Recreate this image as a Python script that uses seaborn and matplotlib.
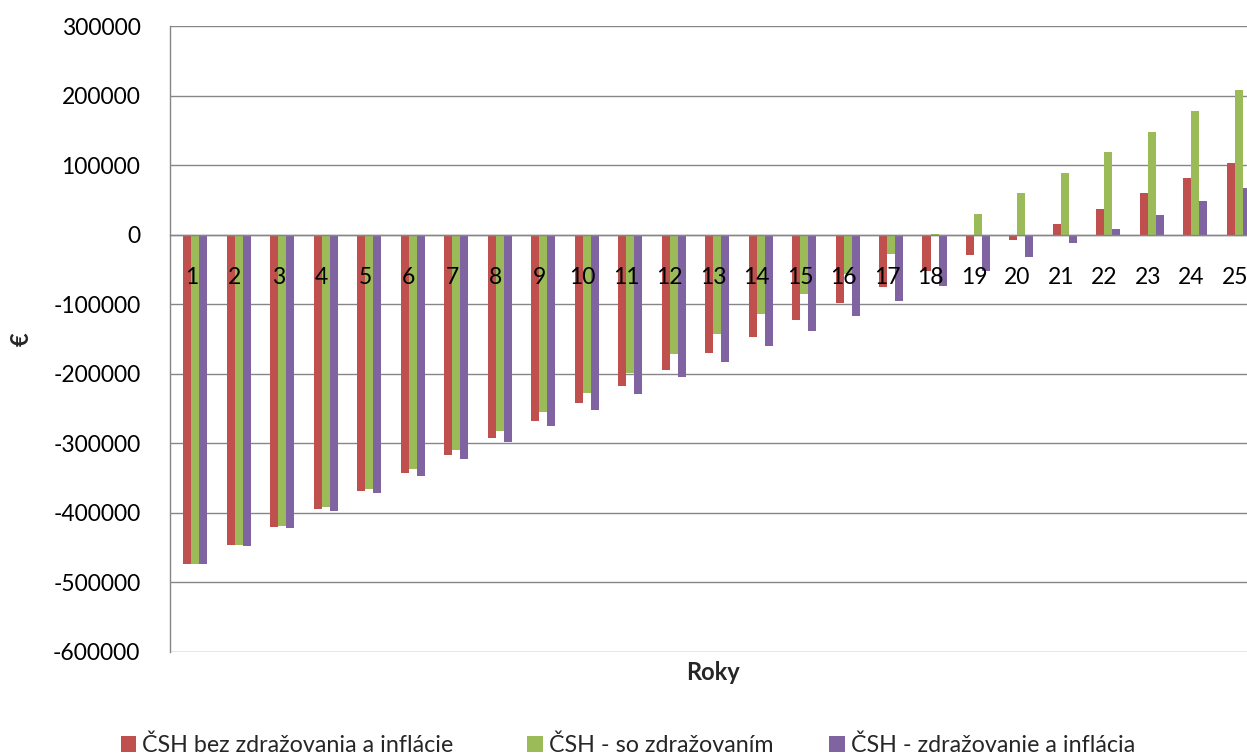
import numpy as np
import pandas as pd
import matplotlib
matplotlib.use("Agg")
import matplotlib.pyplot as plt
from matplotlib.patches import Patch
from matplotlib.transforms import offset_copy
from matplotlib.ticker import FixedLocator, MultipleLocator, FuncFormatter
import seaborn as sns

# Roky projektu
roky = [str(i) for i in range(1, 26)]

serie = [
    "ČSH bez zdražovania a inflácie",
    "ČSH - so zdražovaním",
    "ČSH - zdražovanie a inflácia",
]

# Čistá súčasná hodnota (€) podľa rokov
bez_zdrazovania = [-473000, -446000, -420000, -394000, -368500, -342700, -317300,
                   -292900, -268000, -242600, -218100, -194700, -170300, -146800,
                   -122800, -98900, -75900, -52900, -29900, -7400, 15100, 37600,
                   59600, 81600, 103200]
so_zdrazovanim = [-473000, -446000, -419000, -392000, -365200, -337400, -310100,
                  -282300, -255000, -227300, -199400, -171200, -142500, -114700,
                  -85500, -57000, -28000, 1000, 29900, 59200, 88800, 118500,
                  148300, 178400, 208600]
zdrazovanie_inflacia = [-473500, -447500, -422200, -396800, -371900, -347000,
                        -322600, -298600, -275100, -251700, -228700, -205200,
                        -183200, -160200, -138200, -117100, -95100, -74000,
                        -52900, -31900, -11800, 8300, 28400, 48600, 67800]

farby = ["#C0504D", "#9BBB59", "#8064A2"]
y_ticks = list(range(-600000, 300001, 100000))

sns.set_style("white")
plt.rcParams["font.family"] = ["Lato", "DejaVu Sans"]
plt.rcParams["axes.unicode_minus"] = False

df = pd.DataFrame({
    "Rok": roky * 3,
    "Séria": np.repeat(serie, len(roky)),
    "Hodnota": bez_zdrazovania + so_zdrazovanim + zdrazovanie_inflacia,
})

W, H = 1247, 756
fig = plt.figure(figsize=(W / 100, H / 100), dpi=100)
ax = fig.add_axes([169.6 / W, 104 / H, 1087 / W, 626 / H])

# skupina stĺpcov má na začiatku jednu prázdnu pozíciu
prazdna = " "
hue_order = [prazdna] + serie
paleta = {prazdna: "white", **dict(zip(serie, farby))}

sns.barplot(data=df, x="Rok", y="Hodnota", hue="Séria", order=roky,
            hue_order=hue_order, palette=paleta, width=0.736, saturation=1,
            errorbar=None, linewidth=0, legend=False, ax=ax)

siva = "#868686"
ax.set_xlim(-0.5, 24.5)
ax.set_ylim(-600000, 300000)
ax.yaxis.set_major_locator(FixedLocator(y_ticks))
ax.yaxis.set_minor_locator(MultipleLocator(20000))
ax.yaxis.set_major_formatter(FuncFormatter(lambda v, p: f"{int(round(v))}"))
ax.grid(axis="y", which="major", color=siva, linewidth=1.0)
ax.grid(axis="x", visible=False)
ax.set_axisbelow(True)

for s in ["top", "right"]:
    ax.spines[s].set_visible(False)
ax.spines["bottom"].set_position(("data", 0))
for s in ["left", "bottom"]:
    ax.spines[s].set_color(siva)
    ax.spines[s].set_linewidth(1.0)

# popisy rokov ležia pri nulovej osi, nad stĺpcami
ax.set_xticks(range(len(roky)))
ax.set_xticklabels([])
ax.set_xticks(np.arange(-0.5, len(roky), 1), minor=True)
ax.tick_params(axis="x", which="major", length=0)
ax.tick_params(axis="x", which="minor", length=5.5, width=1, color=siva,
               direction="out")
posun = offset_copy(ax.transData, fig=fig, y=-23.4, units="points")
for i, rok in enumerate(roky):
    ax.text(i, 0, rok, transform=posun, ha="center", va="top", fontsize=16.5,
            color="black", zorder=6, clip_on=False)

ax.tick_params(axis="y", which="major", length=6, width=1, color=siva,
               direction="out", pad=15, labelsize=16.5, labelcolor="black")
ax.tick_params(axis="y", which="minor", length=5, width=1, color=siva,
               direction="out")

ax.set_xlabel("Roky", fontsize=17, fontweight="bold", va="center")
ax.xaxis.set_label_coords(0.5, (652 - 673) / 626)
ax.set_ylabel("€", fontsize=17, fontweight="bold", va="center")
ax.yaxis.set_label_coords((21 - 169.6) / 1087, 0.5)

# legenda pod grafom
pozicie_x = [120.7, 527, 829]
for nazov, farba, x in zip(serie, farby, pozicie_x):
    fig.legend(handles=[Patch(facecolor=farba, edgecolor="none", label=nazov)],
               loc="center left", bbox_to_anchor=(x / W, 1 - 745.5 / H),
               frameon=False, fontsize=16.75, handlelength=0.67, handleheight=0.67,
               handletextpad=0.26, borderpad=0, borderaxespad=0)

fig.savefig("out.png", dpi=100)
